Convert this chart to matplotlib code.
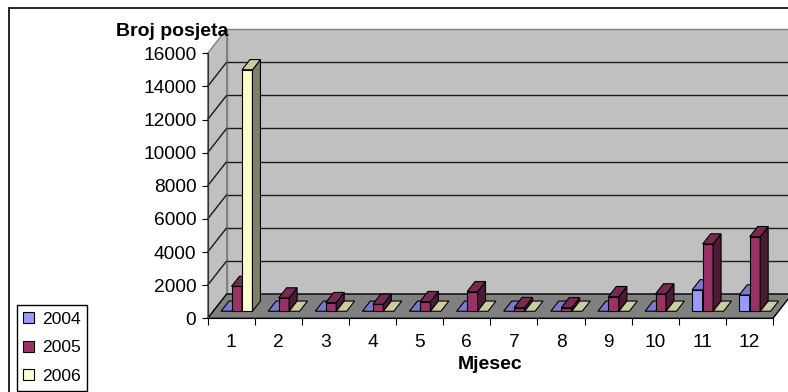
import matplotlib
matplotlib.use("Agg")
import matplotlib.pyplot as plt
from matplotlib.patches import Polygon, Rectangle, Patch
from matplotlib.colors import to_rgb

plt.rcParams['font.family'] = ['Liberation Sans', 'DejaVu Sans']

# ---- data ----
months = [str(i) for i in range(1, 13)]
series_names = ['2004', '2005', '2006']
v2004 = [0, 0, 0, 0, 0, 0, 0, 0, 0, 0, 1290, 980]
v2005 = [1500, 800, 520, 420, 580, 1180, 220, 210, 880, 1045, 4060, 4500]
v2006 = [14580, 0, 0, 0, 0, 0, 0, 0, 0, 0, 0, 0]
yticks = list(range(0, 16001, 2000))
series_colors = ['#9999FF', '#993366', '#FFFFCC']
ylabel = 'Broj posjeta'
xlabel = 'Mjesec'

W, H = 788, 392
fig = plt.figure(figsize=(W / 100, H / 100), dpi=100)

# front plane of the 3D box (pixel geometry)
left_px, right_px = 207.7, 773.0
zero_px, top_px = 318.3, 53.3
ax = fig.add_axes([left_px / W, 1 - zero_px / H,
                   (right_px - left_px) / W, (zero_px - top_px) / H])
ax.set_xlim(0, len(months))
ax.set_ylim(0, yticks[-1])
ax.patch.set_visible(False)

# depth offsets in data units (19 px right, 24.3 px up)
cat_px = (right_px - left_px) / len(months)
val_px = (zero_px - top_px) / yticks[-1]
DX = 19.0 / cat_px
DV = 24.3 / val_px


def P(x, v, d):
    return (x + d * DX, v + d * DV)


def poly(pts, fc, ec='black', lw=0.8, z=1):
    ax.add_patch(Polygon(pts, closed=True, facecolor=fc, edgecolor=ec,
                         linewidth=lw, zorder=z, clip_on=False,
                         joinstyle='miter'))


def line(p0, p1, color='black', lw=0.9, z=1.5):
    ax.plot([p0[0], p1[0]], [p0[1], p1[1]], color=color, lw=lw,
            zorder=z, clip_on=False, solid_capstyle='butt')


n = len(months)
vmax = yticks[-1]
# walls
poly([P(0, 0, 1), P(n, 0, 1), P(n, vmax, 1), P(0, vmax, 1)], '#C0C0C0',
     ec='#808080', lw=1.0, z=0.5)
poly([P(0, 0, 0), P(0, vmax, 0), P(0, vmax, 1), P(0, 0, 1)], '#C0C0C0',
     ec='#808080', lw=1.0, z=0.5)
# gridlines
for t in yticks[1:-1]:
    line(P(0, t, 1), P(n, t, 1), color='#1a1a1a', lw=1.0)
    line(P(0, t, 0), P(0, t, 1), color='#1a1a1a', lw=1.0)
# floor
poly([P(0, 0, 0), P(n, 0, 0), P(n, 0, 1), P(0, 0, 1)], '#808080',
     ec='black', lw=1.0, z=1.2)


def shade(c, f):
    r, g, b = to_rgb(c)
    return (r * f, g * f, b * f)


# bars
bw = 1 / 4.5
off = (1 - 3 * bw) / 2
d0, d1 = 0.29, 0.71
series = [v2004, v2005, v2006]
z = 3
for i in range(n):
    for j, vals in enumerate(series):
        v = vals[i]
        c = series_colors[j]
        x0 = i + off + j * bw
        x1 = x0 + bw
        if v > 0:
            poly([P(x0, 0, d0), P(x1, 0, d0), P(x1, v, d0), P(x0, v, d0)],
                 c, z=z)
            poly([P(x1, 0, d0), P(x1, 0, d1), P(x1, v, d1), P(x1, v, d0)],
                 shade(c, 0.5), z=z)
        poly([P(x0, v, d0), P(x1, v, d0), P(x1, v, d1), P(x0, v, d1)],
             shade(c, 0.8), z=z)
        z += 0.01

# axes
for s in ['top', 'right']:
    ax.spines[s].set_visible(False)
ax.spines['left'].set_color('#303030')
ax.spines['bottom'].set_color('black')
ax.spines['left'].set_zorder(2)
ax.spines['bottom'].set_zorder(2)
ax.set_yticks(yticks)
ax.set_yticklabels([str(t) for t in yticks])
ax.tick_params(axis='y', direction='out', length=4.6, width=0.8,
               pad=3.6, labelsize=13.8, colors='black')
ax.set_xticks(range(n + 1))
ax.set_xticklabels([''] * (n + 1))
ax.set_xticks([k + 0.5 for k in range(n)], minor=True)
ax.set_xticklabels(months, minor=True)
ax.tick_params(axis='x', which='major', direction='out', length=4.8,
               width=0.8)
ax.tick_params(axis='x', which='minor', length=0, pad=11.5,
               labelsize=13.8)

fig.text(228 / W, 1 - 36.5 / H, ylabel, ha='right', va='baseline',
         fontsize=14, fontweight='bold')
fig.text((left_px + right_px) / 2 / W, 1 - 369 / H, xlabel, ha='center',
         va='baseline', fontsize=14, fontweight='bold')

# legend
handles = [Patch(facecolor=c, edgecolor='black', linewidth=0.8)
           for c in series_colors]
leg = fig.legend(handles, series_names, loc='lower left',
                 bbox_to_anchor=(16.7 / W, 1 - 390.7 / H),
                 bbox_transform=fig.transFigure, frameon=True,
                 fancybox=False, edgecolor='black', framealpha=1,
                 borderaxespad=0, fontsize=12.6, handlelength=0.6,
                 handleheight=0.6, handletextpad=0.45, borderpad=0.38,
                 labelspacing=0.78)
leg.get_frame().set_linewidth(1.0)

# outer chart border
fig.add_artist(Rectangle((9 / W, -0.05), 1.1, 1 - 8 / H + 0.05,
                         transform=fig.transFigure, fill=False,
                         edgecolor='black', linewidth=1.2))

fig.savefig('out.png', dpi=100)
